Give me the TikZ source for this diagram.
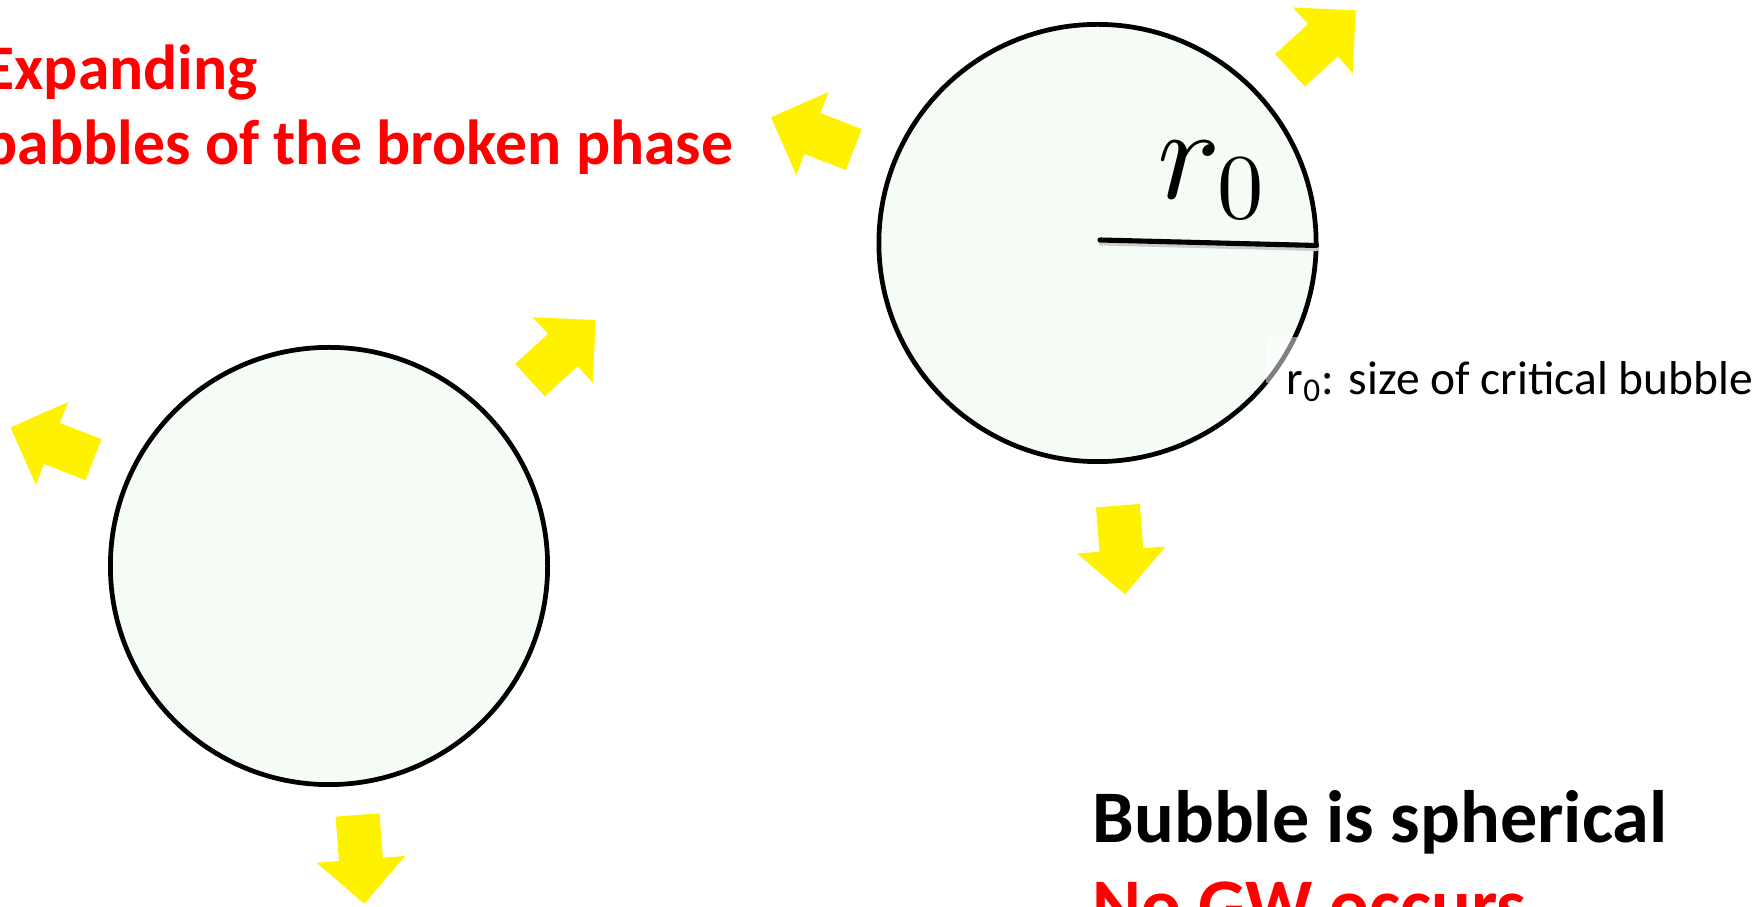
\RequirePackage{fix-cm}
\documentclass[tikz,border=0pt]{standalone}
\usepackage[no-math]{fontspec}
\setmainfont{Carlito}
\usepackage{tikz}
\usetikzlibrary{positioning}
\DeclareFontShape{OML}{cmm}{m}{it}{<->cmmi10}{\skewchar\font=127}
\DeclareFontShape{OT1}{cmr}{m}{n}{<->cmr10}{}
\definecolor{bubblefill}{RGB}{245,252,245}

\begin{document}
\begin{tikzpicture}[
            x=0.01cm, y=-0.01cm,
            bubble/.style={draw, circle, line width=1.35pt, fill=bubblefill,
                           minimum size=4.37cm, inner sep=0pt},
            heading/.style={font=\bfseries\fontsize{18.1}{21}\selectfont, text=red,
                            inner sep=0pt, anchor=base west},
            remark/.style={font=\bfseries\fontsize{21.1}{25}\selectfont,
                           inner sep=0pt, anchor=base west},
            note/.style={font=\fontsize{13.5}{16}\selectfont, inner sep=0pt, anchor=base west},
            radiusline/.style={line width=1.45pt, line cap=round},
            outarrow/.pic={
                \fill[yellow] (0,-22) -- (44.5,-22) -- (44.5,-44.5) -- (89,0)
                    -- (44.5,44.5) -- (44.5,22) -- (0,22) -- cycle;
            }
        ]
            \useasboundingbox (0,0) rectangle (1763,907);
            \clip (0,0) rectangle (1763,907);

            % the two bubbles
            \node[bubble] (bubbleL) at (329,566) {};
            \node[bubble] (bubbleR) at (1097.5,243) {};

            % radius of the critical bubble
            \coordinate (rstart) at (1100,240);
            \coordinate (rend) at (1316.5,245.5);
            \draw[radiusline, black!20] ([shift={(1,3)}]rstart) -- ([shift={(0,3)}]rend);
            \draw[radiusline] (rstart) -- (rend);
            \node[anchor=base west, inner sep=0pt, font=\fontsize{37.6}{40}\selectfont]
                (rzero) at (1157,199) {$r_0$};

            \fill[white, fill opacity=0.5] (1266,337) rectangle (1763,383);
            \node[note] (critical) at (1286,394.3) {r\textsubscript{0}: size of critical bubble};

            % expansion arrows
            \pic[rotate=158.7] at (853.85,149.65) {outarrow};
            \pic[rotate=42.4] at (1290,70.35) {outarrow};
            \pic[rotate=-85.4] at (1117.85,505.65) {outarrow};
            \pic[rotate=158.8] at (93.5,459.65) {outarrow};
            \pic[rotate=42.5] at (530,380.15) {outarrow};
            \pic[rotate=-85.6] at (357.5,815) {outarrow};

            % texts
            \node[heading] (expanding) at (-17,90) {Expanding};
            \node[heading] (babbles) at (-17,165) {babbles of the broken phase};
            \node[remark] (spherical) at (1092,843) {Bubble is spherical};
            \node[remark, text=red] (nogw) at (1092,931) {No GW occurs};
        \end{tikzpicture}
\end{document}
